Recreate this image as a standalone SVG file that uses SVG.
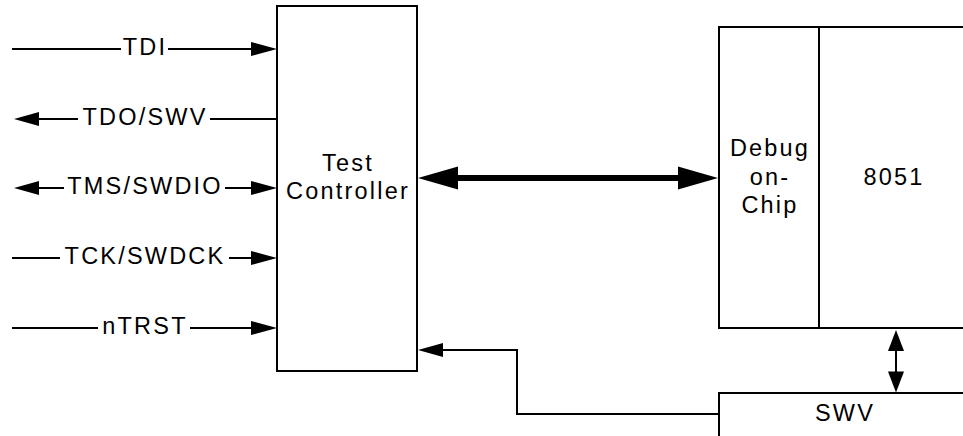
<svg xmlns="http://www.w3.org/2000/svg" width="963" height="436" viewBox="0 0 963 436">
<style>
.t{font-family:"Liberation Sans",Arial,sans-serif;font-size:23.5px;letter-spacing:2.2px;fill:#000;text-anchor:middle}
.ln{stroke:#000;stroke-width:2;fill:none}
.box{fill:#fff;stroke:#000;stroke-width:2}
.ah{fill:#000}
</style>
<rect width="963" height="436" fill="#fff"/>
<g id="test-controller">
<rect class="box" x="277" y="6" width="140" height="365"/>
<text class="t" x="348" y="171">Test</text>
<text class="t" x="348" y="199">Controller</text>
</g>
<g id="debug-on-chip">
<rect class="box" x="719" y="27" width="260" height="301"/>
<line class="ln" x1="819" y1="27" x2="819" y2="328"/>
<text class="t" x="770" y="155.5">Debug</text>
<text class="t" x="770" y="184.5">on-</text>
<text class="t" x="770" y="213">Chip</text>
</g>
<g id="cpu-8051">
<text class="t" x="894" y="185">8051</text>
</g>
<g id="swv">
<rect class="box" x="719" y="393" width="260" height="60"/>
<text class="t" x="845" y="421">SWV</text>
</g>
<g id="connectors">
<!-- TDI -->
<path class="ln" d="M12,49H121M168,49H255"/>
<polygon class="ah" points="277,49 251,42 251,56"/>
<text class="t" x="145" y="55">TDI</text>
<!-- TDO/SWV -->
<path class="ln" d="M36,119H78M210,119H277"/>
<polygon class="ah" points="14,119 39,112 39,126"/>
<text class="t" x="145" y="125">TDO/SWV</text>
<!-- TMS/SWDIO -->
<path class="ln" d="M36,188H64M225,188H255"/>
<polygon class="ah" points="14,188 39,181 39,195"/>
<polygon class="ah" points="277,188 251,181 251,195"/>
<text class="t" x="145" y="194">TMS/SWDIO</text>
<!-- TCK/SWDCK -->
<path class="ln" d="M12,258H60M229,258H255"/>
<polygon class="ah" points="277,258 251,251 251,265"/>
<text class="t" x="145" y="264">TCK/SWDCK</text>
<!-- nTRST -->
<path class="ln" d="M12,328H98M190,328H255"/>
<polygon class="ah" points="277,328 251,321 251,335"/>
<text class="t" x="145" y="334">nTRST</text>
<!-- Test Controller <-> Debug -->
<line x1="450" y1="178" x2="686" y2="178" stroke="#000" stroke-width="6"/>
<polygon class="ah" points="418,178 458,166.5 458,189.5"/>
<polygon class="ah" points="718,178 678,166.5 678,189.5"/>
<!-- 8051 <-> SWV -->
<line class="ln" x1="896" y1="345" x2="896" y2="378"/>
<polygon class="ah" points="896,330 888,351 904,351"/>
<polygon class="ah" points="896,392.5 888,371.5 904,371.5"/>
<!-- SWV -> Test Controller -->
<polyline class="ln" stroke-width="1.6" points="719,414 517,414 517,350 438,350"/>
<polygon class="ah" points="418,350 443,343 443,357"/>
</g>
</svg>
